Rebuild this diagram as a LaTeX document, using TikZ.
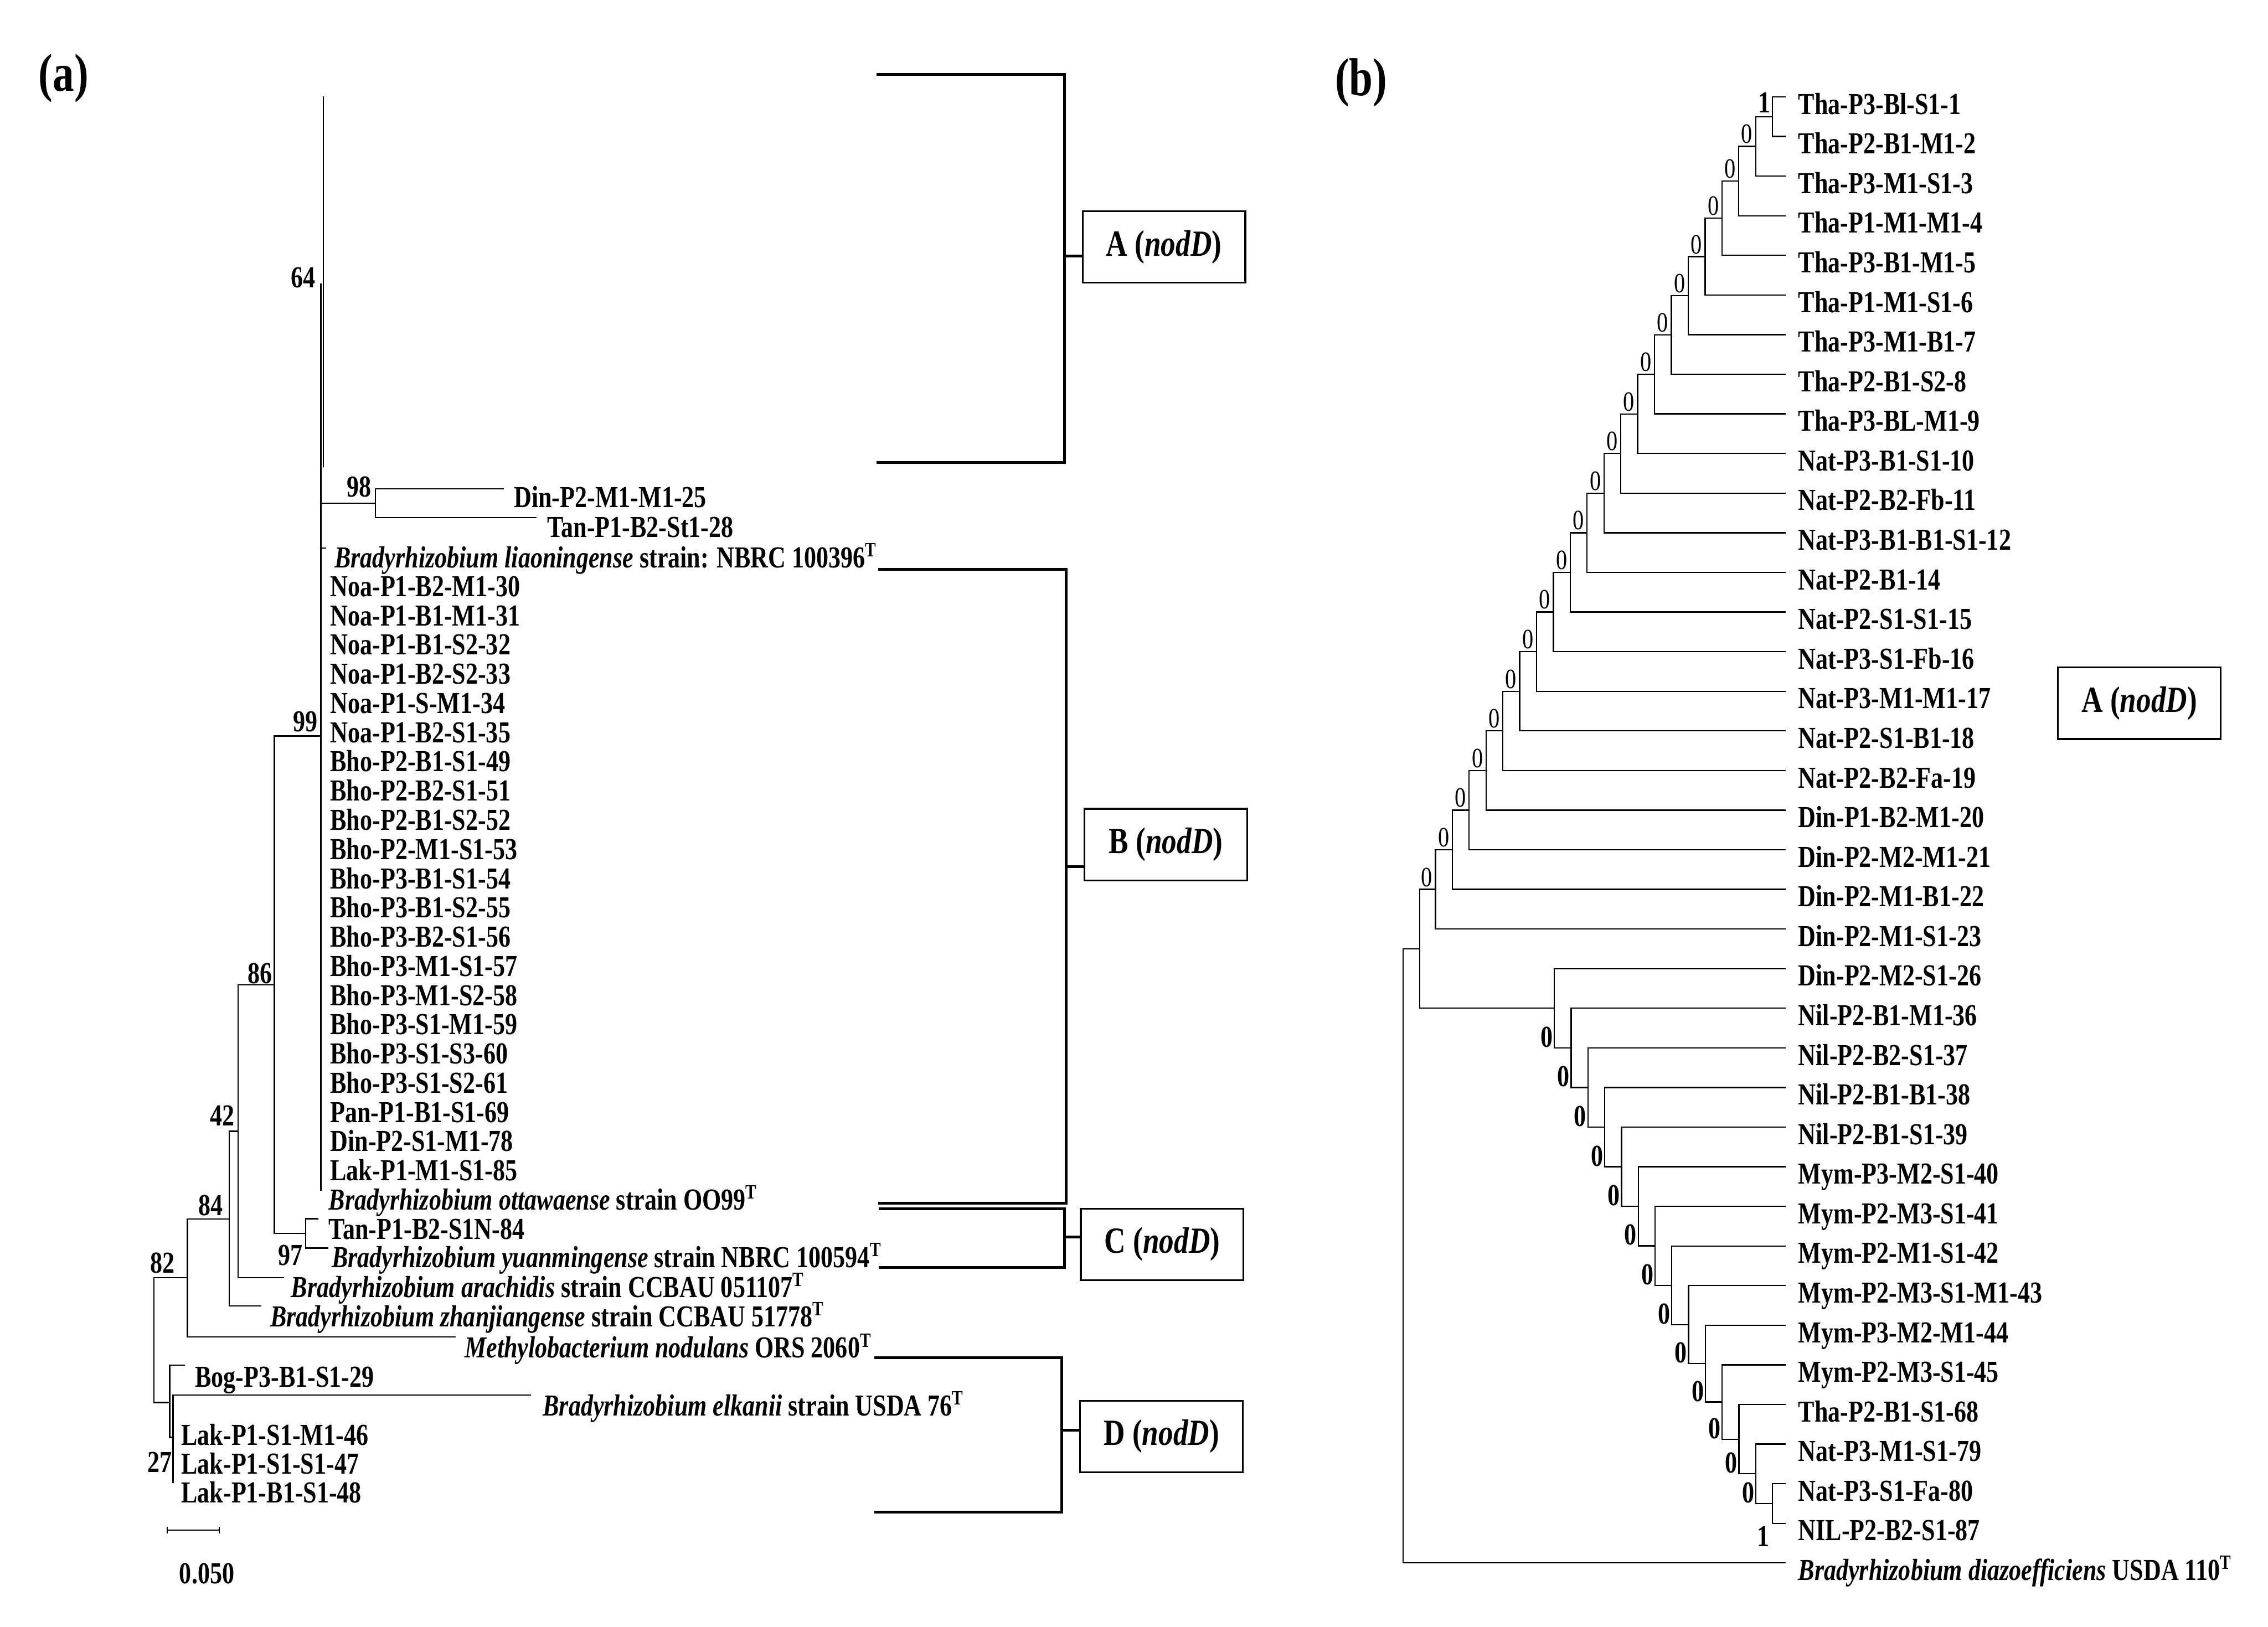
\documentclass[tikz,border=0pt]{standalone}
\usepackage{fontspec}
\setmainfont{Liberation Serif}[FakeStretch=0.8]
\usetikzlibrary{positioning}
\newcommand{\Tsup}{\textsuperscript{T}}

\begin{document}
\begin{tikzpicture}[
    x=0.02cm, y=-0.02cm,
    tree/.style={line width=0.5pt},
    bracket/.style={line width=1.1pt},
    leaf/.style={anchor=west, inner sep=0pt, text height=8pt, text depth=0pt, font=\fontsize{12}{12}\selectfont\bfseries},
    tipleaf/.style={leaf, yshift=-2.8pt},
    boot/.style={inner sep=0pt, font=\fontsize{12}{12}\selectfont\bfseries},
    bootlite/.style={inner sep=0pt, font=\fontsize{11}{11}\selectfont},
    cladebox/.style={draw, line width=0.7pt, minimum width=2.25cm, minimum height=0.99cm, inner sep=0pt, font=\fontsize{14.5}{14.5}\selectfont\bfseries},
    panel/.style={inner sep=0pt, font=\fontsize{21}{21}\selectfont\bfseries}
]
    \useasboundingbox (0,0) rectangle (1568,1125);

    \node[panel] (pa) at (44,54) {(a)};
    \node[panel] (pb) at (941,57) {(b)};

    % tree (a): inner nodes and tips
    \coordinate (root) at (106.3,926.6);
    \coordinate (nA) at (129.6,883.6);
    \coordinate (nB) at (158.5,843);
    \coordinate (nC) at (164.5,782.3);
    \coordinate (nD) at (189.7,681);
    \coordinate (nE) at (221.8,509);
    \coordinate (nF) at (211.4,853);
    \coordinate (n98) at (259.5,348);
    \coordinate (nG) at (117.3,969.8);
    \coordinate (nH) at (119.6,994);
    \coordinate (tMet) at (315,924.4);
    \coordinate (tZha) at (180.5,903);
    \coordinate (tAra) at (196.5,883.4);
    \coordinate (tT84) at (220,842.8);
    \coordinate (tYua) at (227,863);
    \coordinate (tDin) at (348.2,337.9);
    \coordinate (tTan) at (371,357.9);
    \coordinate (tLia) at (225.5,379);
    \coordinate (tBog) at (128,944);
    \coordinate (tElk) at (367,964.7);
    \coordinate (tLak) at (119.6,1025.5);
    \coordinate (e64) at (221.8,196);
    \coordinate (eOtt) at (221.8,823.6);
    \coordinate (c64a) at (223.6,66.8);
    \coordinate (c64b) at (223.6,323);

    \draw[tree] (nA) -| (root) |- (nG);
    \draw[tree] (nB) -| (nA) |- (tMet);
    \draw[tree] (nC) -| (nB) |- (tZha);
    \draw[tree] (nD) -| (nC) |- (tAra);
    \draw[tree] (nE) -| (nD) |- (nF);
    \draw[tree] (tT84) -| (nF) |- (tYua);
    \draw[tree] (e64) -- (eOtt);
    \draw[tree] (n98 -| nE) -- (n98);
    \draw[tree] (tDin) -| (n98) |- (tTan);
    \draw[tree] (tLia -| nE) -- (tLia);
    \draw[tree, line width=0.4pt] (c64a) -- (c64b);
    \draw[tree] (tBog) -| (nG) |- (nH);
    \draw[tree] (tElk) -| (nH) -- (tLak);

    % tree (a): labels
    \node[leaf] (lDin) at (355,343.9) {Din-P2-M1-M1-25};
    \node[leaf] (lTan) at (378,364.6) {Tan-P1-B2-St1-28};
    \node[leaf] (lLia) at (231,385.4) {\textit{Bradyrhizobium liaoningense} strain: NBRC 100396\Tsup};
    \foreach \name [count=\k from 0] in {Noa-P1-B2-M1-30, Noa-P1-B1-M1-31, Noa-P1-B1-S2-32, Noa-P1-B2-S2-33, Noa-P1-S-M1-34, Noa-P1-B2-S1-35, Bho-P2-B1-S1-49, Bho-P2-B2-S1-51, Bho-P2-B1-S2-52, Bho-P2-M1-S1-53, Bho-P3-B1-S1-54, Bho-P3-B1-S2-55, Bho-P3-B2-S1-56, Bho-P3-M1-S1-57, Bho-P3-M1-S2-58, Bho-P3-S1-M1-59, Bho-P3-S1-S3-60, Bho-P3-S1-S2-61, Pan-P1-B1-S1-69, Din-P2-S1-M1-78, Lak-P1-M1-S1-85}
        \node[leaf] (lq\k) at (228,{405.4+20.2*\k}) {\name};
    \node[leaf] (lOtt) at (227,829.7) {\textit{Bradyrhizobium ottawaense} strain OO99\Tsup};
    \node[leaf] (lT84) at (227,849.8) {Tan-P1-B2-S1N-84};
    \node[leaf] (lYua) at (229,869.5) {\textit{Bradyrhizobium yuanmingense} strain NBRC 100594\Tsup};
    \node[leaf] (lAra) at (201,890) {\textit{Bradyrhizobium arachidis} strain CCBAU 051107\Tsup};
    \node[leaf] (lZha) at (186.5,910.5) {\textit{Bradyrhizobium zhanjiangense} strain CCBAU 51778\Tsup};
    \node[leaf] (lMet) at (321,932) {\textit{Methylobacterium nodulans} ORS 2060\Tsup};
    \node[leaf] (lBog) at (134.5,952) {Bog-P3-B1-S1-29};
    \node[leaf] (lElk) at (375,972) {\textit{Bradyrhizobium elkanii} strain USDA 76\Tsup};
    \node[leaf] (lL46) at (125,992.2) {Lak-P1-S1-M1-46};
    \node[leaf] (lL47) at (125,1012.2) {Lak-P1-S1-S1-47};
    \node[leaf] (lL48) at (125,1032.2) {Lak-P1-B1-S1-48};

    \node[boot] (b64) at (209.6,192) {64};
    \node[boot, anchor=south east, xshift=-1.4pt, yshift=2.3pt] (b98) at (n98) {98};
    \node[boot, anchor=south east, xshift=-1.1pt, yshift=1.4pt] (b99) at (nE) {99};
    \node[boot, anchor=south east, xshift=-0.7pt, yshift=0.2pt] (b86) at (nD) {86};
    \node[boot, anchor=south east, xshift=-1.1pt, yshift=1.9pt] (b42) at (nC) {42};
    \node[boot, anchor=south east, xshift=-2.3pt, yshift=1.2pt] (b84) at (nB) {84};
    \node[boot, anchor=south east, xshift=-4.9pt, yshift=1.6pt] (b82) at (nA) {82};
    \node[boot, anchor=north east, xshift=-1.1pt, yshift=-4.4pt] (b97) at (nF) {97};
    \node[boot] (b27) at (110.5,1011) {27};

    % scale bar
    \coordinate (sbL) at (115.6,1058);
    \coordinate (sbR) at (151.6,1058);
    \draw[tree] (sbL) -- (sbR);
    \draw[tree] ([yshift=1.3pt]sbL) -- ([yshift=-1.3pt]sbL);
    \draw[tree] ([yshift=1.3pt]sbR) -- ([yshift=-1.3pt]sbR);
    \node[boot] (sbT) at (143,1088) {0.050};

    % clade brackets (a)
    \coordinate (A1) at (606,51.5);
    \coordinate (A2) at (606,320);
    \draw[bracket] (A1) -- ++(130,0) |- (A2);
    \coordinate (Atk) at (736,176.9);
    \node[cladebox] (boxA) at (804.7,170.8) {A (\textit{nodD})};
    \draw[bracket] (Atk) -- (Atk -| boxA.west);

    \coordinate (B1) at (607,393.6);
    \coordinate (B2) at (607,832);
    \draw[bracket] (B1) -- ++(130,0) |- (B2);
    \coordinate (Btk) at (737,599.4);
    \node[cladebox] (boxB) at (806,584) {B (\textit{nodD})};
    \draw[bracket] (Btk) -- (Btk -| boxB.west);

    \coordinate (C1) at (607.5,836);
    \coordinate (C2) at (607.5,876.5);
    \draw[bracket] (C1) -- ++(128.5,0) |- (C2);
    \coordinate (Ctk) at (736,855.4);
    \node[cladebox] (boxC) at (803.5,860.5) {C (\textit{nodD})};
    \draw[bracket] (Ctk) -- (Ctk -| boxC.west);

    \coordinate (D1) at (604.5,939);
    \coordinate (D2) at (604.5,1045.6);
    \draw[bracket] (D1) -- ++(129.5,0) |- (D2);
    \coordinate (Dtk) at (734,989);
    \node[cladebox] (boxD) at (803,993.3) {D (\textit{nodD})};
    \draw[bracket] (Dtk) -- (Dtk -| boxD.west);

    % tree (b): tips and labels
    \foreach \name [count=\i] in {Tha-P3-Bl-S1-1, Tha-P2-B1-M1-2, Tha-P3-M1-S1-3, Tha-P1-M1-M1-4, Tha-P3-B1-M1-5, Tha-P1-M1-S1-6, Tha-P3-M1-B1-7, Tha-P2-B1-S2-8, Tha-P3-BL-M1-9, Nat-P3-B1-S1-10, Nat-P2-B2-Fb-11, Nat-P3-B1-B1-S1-12, Nat-P2-B1-14, Nat-P2-S1-S1-15, Nat-P3-S1-Fb-16, Nat-P3-M1-M1-17, Nat-P2-S1-B1-18, Nat-P2-B2-Fa-19, Din-P1-B2-M1-20, Din-P2-M2-M1-21, Din-P2-M1-B1-22, Din-P2-M1-S1-23, Din-P2-M2-S1-26, Nil-P2-B1-M1-36, Nil-P2-B2-S1-37, Nil-P2-B1-B1-38, Nil-P2-B1-S1-39, Mym-P3-M2-S1-40, Mym-P2-M3-S1-41, Mym-P2-M1-S1-42, Mym-P2-M3-S1-M1-43, Mym-P3-M2-M1-44, Mym-P2-M3-S1-45, Tha-P2-B1-S1-68, Nat-P3-M1-S1-79, Nat-P3-S1-Fa-80, NIL-P2-B2-S1-87} {
        \coordinate (t\i) at (1234.5,{67+27.4*(\i-1)});
        \node[tipleaf, right=4.8pt of t\i] (lb\i) {\name};
    }
    \coordinate (t38) at (1234.5,{67+27.4*37});
    \node[tipleaf, right=4.8pt of t38] (lb38) {\textit{Bradyrhizobium diazoefficiens} USDA 110\Tsup};

    % upper ladder
    \foreach \m in {1,...,21}
        \coordinate (n\m) at ({1225.4-11.65*(\m-1)},{67+27.4*(\m-1)+13.7*0.5^(\m-1)});
    \draw[tree] (t1) -| (n1) |- (t2);
    \foreach \m [evaluate=\m as \p using int(\m-1), evaluate=\m as \q using int(\m+1)] in {2,...,21}
        \draw[tree] (n\p) -| (n\m) |- (t\q);
    \node[boot, anchor=south east, xshift=-0.6pt, yshift=1.3pt] (bn1) at (n1) {1};
    \foreach \m in {2,...,21}
        \node[bootlite, anchor=south east, xshift=-1pt, yshift=0.9pt] (bn\m) at (n\m) {0};

    % lower ladder
    \foreach \k in {1,...,14}
        \coordinate (L\k) at ({1074.6+11.6*(\k-1)},{67+27.4*(22+\k)-13.7*0.5^(14-\k)});
    \foreach \k [evaluate=\k as \q using int(\k+1), evaluate=\k as \lf using int(\k+22)] in {1,...,13}
        \draw[tree] (t\lf) -| (L\k) |- (L\q);
    \draw[tree] (t36) -| (L14) |- (t37);
    \foreach \k [evaluate=\k as \p using int(\k-1)] in {2,...,14}
        \node[boot, anchor=south east, xshift=-0.4pt] (bL\k) at (L\p |- L\k) {0};
    \node[boot, anchor=north east, xshift=-1.1pt, yshift=-0.9pt] (bL15) at (L14 |- t37) {1};

    % joining node and root (b)
    \coordinate (J) at (981.4,656.1);
    \draw[tree] (n21) -| (J) |- (L1);
    \coordinate (rootb) at (970,868.5);
    \draw[tree] (J) -| (rootb) |- (t38);

    \node[cladebox] (boxAb) at (1479,486.3) {A (\textit{nodD})};
\end{tikzpicture}
\end{document}
